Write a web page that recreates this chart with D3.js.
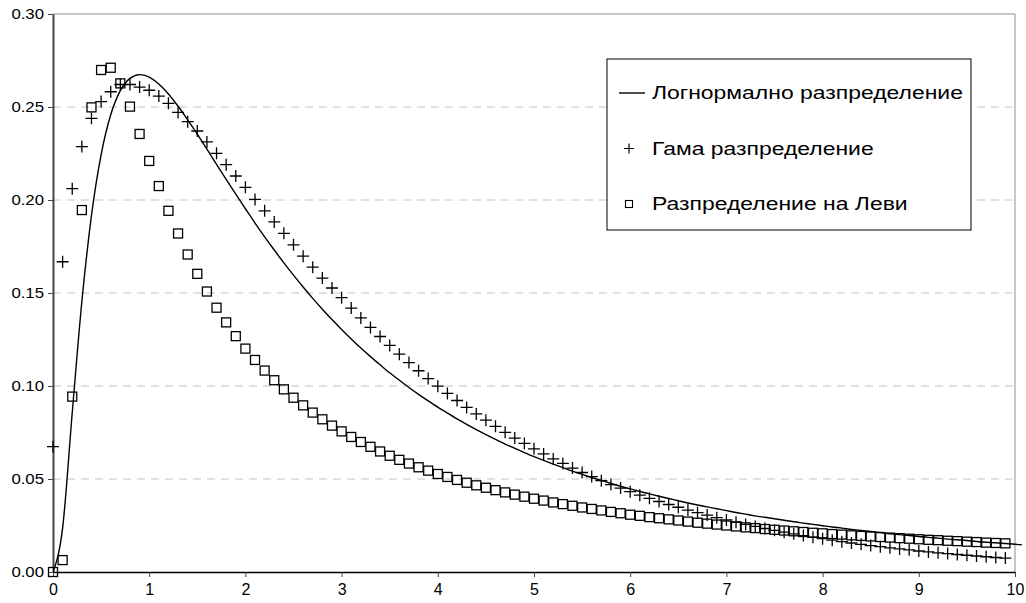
<!DOCTYPE html>
<html>
	<head>
		<meta charset="utf-8">
		<title> distributions </title>
		<script src="https://cdnjs.cloudflare.com/ajax/libs/d3/7.8.5/d3.min.js"></script>
		<style>
			body { margin: 0; background: #fff; }
			text { font-family: 'Liberation Sans', Arial, sans-serif; fill: #000; }
		</style>
	</head>

	<body>
		<script>

		// x categories (step 0.1)
		const xValues = [
			0, 0.1, 0.2, 0.3, 0.4, 0.5, 0.6, 0.7, 0.8, 0.9,
			1, 1.1, 1.2, 1.3, 1.4, 1.5, 1.6, 1.7, 1.8, 1.9,
			2, 2.1, 2.2, 2.3, 2.4, 2.5, 2.6, 2.7, 2.8, 2.9,
			3, 3.1, 3.2, 3.3, 3.4, 3.5, 3.6, 3.7, 3.8, 3.9,
			4, 4.1, 4.2, 4.3, 4.4, 4.5, 4.6, 4.7, 4.8, 4.9,
			5, 5.1, 5.2, 5.3, 5.4, 5.5, 5.6, 5.7, 5.8, 5.9,
			6, 6.1, 6.2, 6.3, 6.4, 6.5, 6.6, 6.7, 6.8, 6.9,
			7, 7.1, 7.2, 7.3, 7.4, 7.5, 7.6, 7.7, 7.8, 7.9,
			8, 8.1, 8.2, 8.3, 8.4, 8.5, 8.6, 8.7, 8.8, 8.9,
			9, 9.1, 9.2, 9.3, 9.4, 9.5, 9.6, 9.7, 9.8, 9.9,
			10, 10.1
		];

		// Логнормално разпределение
		const lognormal = [
			0, 0.0237, 0.0856, 0.1454, 0.1917, 0.2243, 0.2458, 0.2588, 0.2654, 0.2674,
			0.2661, 0.2624, 0.2570, 0.2504, 0.2431, 0.2354, 0.2273, 0.2192, 0.2111, 0.2031,
			0.1953, 0.1876, 0.1802, 0.1731, 0.1662, 0.1596, 0.1532, 0.1471, 0.1413, 0.1357,
			0.1304, 0.1253, 0.1204, 0.1158, 0.1114, 0.1071, 0.1031, 0.0992, 0.0955, 0.0920,
			0.0886, 0.0854, 0.0823, 0.0794, 0.0766, 0.0739, 0.0713, 0.0688, 0.0665, 0.0642,
			0.0620, 0.0600, 0.0580, 0.0561, 0.0542, 0.0525, 0.0508, 0.0492, 0.0476, 0.0461,
			0.0447, 0.0433, 0.0420, 0.0407, 0.0395, 0.0383, 0.0371, 0.0360, 0.0350, 0.0340,
			0.0330, 0.0320, 0.0311, 0.0302, 0.0294, 0.0286, 0.0278, 0.0270, 0.0263, 0.0256,
			0.0249, 0.0242, 0.0236, 0.0229, 0.0223, 0.0218, 0.0212, 0.0206, 0.0201, 0.0196,
			0.0191, 0.0186, 0.0182, 0.0177, 0.0173, 0.0169, 0.0164, 0.0160, 0.0157, 0.0153,
			0.0149, 0.0146
		];

		// Гама разпределение
		const gamma = [
			0.0674, 0.1668, 0.2061, 0.2287, 0.2439, 0.2529, 0.2582, 0.2621, 0.2621, 0.2607,
			0.2590, 0.2559, 0.2520, 0.2471, 0.2421, 0.2371, 0.2312, 0.2251, 0.2190, 0.2129,
			0.2068, 0.2003, 0.1942, 0.1882, 0.1821, 0.1759, 0.1698, 0.1639, 0.1580, 0.1527,
			0.1475, 0.1419, 0.1366, 0.1315, 0.1266, 0.1218, 0.1171, 0.1126, 0.1082, 0.1040,
			0.0999, 0.0960, 0.0922, 0.0885, 0.0850, 0.0816, 0.0783, 0.0751, 0.0720, 0.0691,
			0.0662, 0.0635, 0.0608, 0.0584, 0.0559, 0.0535, 0.0513, 0.0491, 0.0470, 0.0451,
			0.0432, 0.0413, 0.0396, 0.0379, 0.0363, 0.0348, 0.0333, 0.0319, 0.0306, 0.0292,
			0.0280, 0.0268, 0.0256, 0.0245, 0.0234, 0.0224, 0.0214, 0.0205, 0.0196, 0.0187,
			0.0179, 0.0171, 0.0163, 0.0156, 0.0149, 0.0142, 0.0136, 0.0130, 0.0124, 0.0119,
			0.0113, 0.0108, 0.0103, 0.0099, 0.0094, 0.0090, 0.0086, 0.0082, 0.0078, 0.0075
		];

		// Разпределение на Леви
		const levy = [
			0, 0.0064, 0.0943, 0.1946, 0.2498, 0.2699, 0.2711, 0.2627, 0.2502, 0.2355,
			0.2210, 0.2075, 0.1942, 0.1820, 0.1707, 0.1603, 0.1508, 0.1421, 0.1342, 0.1268,
			0.1201, 0.1140, 0.1083, 0.1031, 0.0982, 0.0937, 0.0896, 0.0857, 0.0821, 0.0787,
			0.0756, 0.0726, 0.0699, 0.0673, 0.0648, 0.0625, 0.0603, 0.0583, 0.0563, 0.0545,
			0.0527, 0.0511, 0.0495, 0.0480, 0.0466, 0.0453, 0.0440, 0.0428, 0.0416, 0.0405,
			0.0394, 0.0384, 0.0374, 0.0365, 0.0356, 0.0347, 0.0339, 0.0331, 0.0323, 0.0316,
			0.0308, 0.0302, 0.0295, 0.0289, 0.0283, 0.0277, 0.0271, 0.0265, 0.0260, 0.0255,
			0.0250, 0.0245, 0.0240, 0.0236, 0.0231, 0.0227, 0.0223, 0.0219, 0.0215, 0.0211,
			0.0208, 0.0204, 0.0201, 0.0197, 0.0194, 0.0191, 0.0188, 0.0185, 0.0182, 0.0179,
			0.0176, 0.0173, 0.0171, 0.0168, 0.0166, 0.0163, 0.0161, 0.0158, 0.0156, 0.0154
		];

		const xTicks = [0, 1, 2, 3, 4, 5, 6, 7, 8, 9, 10];
		const yTicks = [0, 0.05, 0.10, 0.15, 0.20, 0.25, 0.30];
		const legendLabels = ['Логнормално разпределение', 'Гама разпределение', 'Разпределение на Леви'];

		let width = 1026,
			height = 603,
			plotLeft = 53,
			plotRight = 1015,
			plotTop = 14,
			plotBottom = 572;

		let xScale = d3.scaleLinear()
						.domain([0, 10])
						.range([plotLeft, plotRight]);

		let yScale = d3.scaleLinear()
						.domain([0, 0.3])
						.range([plotBottom, plotTop]);

		let svg = d3.select('body')
					.append('svg')
					.attr('width', width)
					.attr('height', height);

		// dashed gridlines
		svg.append('g')
			.selectAll('line')
			.data(yTicks.filter(d => d > 0 && d < 0.3))
			.enter()
			.append('line')
			.attr('x1', plotLeft)
			.attr('x2', plotRight)
			.attr('y1', d => yScale(d))
			.attr('y2', d => yScale(d))
			.attr('stroke', '#c4c4c4')
			.attr('stroke-width', 1)
			.attr('stroke-dasharray', '8,6');

		// plot border (top, right)
		svg.append('path')
			.attr('d', `M${plotLeft},${yScale(0.3)}H${xScale(10)}V${yScale(0)}`)
			.attr('fill', 'none')
			.attr('stroke', '#8c8c8c')
			.attr('stroke-width', 1);

		// axes
		let yAxis = svg.append('g')
			.attr('transform', `translate(${plotLeft},0)`)
			.call(d3.axisLeft(yScale)
				.tickValues(yTicks)
				.tickFormat(d3.format('.2f'))
				.tickSizeInner(5)
				.tickSizeOuter(0)
				.tickPadding(3));

		yAxis.select('.domain').attr('stroke', '#444').attr('stroke-width', 2);
		yAxis.selectAll('.tick line').attr('stroke', '#444');
		// labels in the picture are drawn a little wide
		yAxis.selectAll('text')
			.style('font-size', '15px')
			.attr('transform', 'scale(1.12,1)');

		let xAxis = svg.append('g')
			.attr('transform', `translate(0,${plotBottom})`)
			.call(d3.axisBottom(xScale)
				.tickValues(xTicks)
				.tickFormat(d3.format('d'))
				.tickSizeInner(5)
				.tickSizeOuter(0)
				.tickPadding(7));

		xAxis.select('.domain').attr('stroke', '#000').attr('stroke-width', 1.5);
		xAxis.selectAll('.tick line').attr('stroke', '#444');
		xAxis.selectAll('text').style('font-size', '16px');

		// lognormal line
		let logData = xValues.map((x, i) => [x, lognormal[i]]);

		svg.append('clipPath')
			.attr('id', 'lineclip')
			.append('rect')
			.attr('x', plotLeft)
			.attr('y', 0)
			.attr('width', xScale(10.07) - plotLeft)
			.attr('height', height);

		svg.append('path')
			.datum(logData)
			.attr('clip-path', 'url(#lineclip)')
			.attr('fill', 'none')
			.attr('stroke', '#000')
			.attr('stroke-width', 1.4)
			.attr('d', d3.line()
				.x(d => xScale(d[0]))
				.y(d => yScale(d[1]))
				.curve(d3.curveMonotoneX));

		// Lévy squares
		svg.append('g')
			.selectAll('rect')
			.data(levy)
			.enter()
			.append('rect')
			.attr('x', (d, i) => xScale(xValues[i]) - 4.5)
			.attr('y', d => yScale(d) - 4.5)
			.attr('width', 9)
			.attr('height', 9)
			.attr('fill', 'none')
			.attr('stroke', '#000')
			.attr('stroke-width', 1.3);

		// gamma crosses
		svg.append('g')
			.selectAll('path')
			.data(gamma)
			.enter()
			.append('path')
			.attr('transform', (d, i) => `translate(${xScale(xValues[i])},${yScale(d)})`)
			.attr('d', 'M-6,0H6M0,-6V6')
			.attr('fill', 'none')
			.attr('stroke', '#000')
			.attr('stroke-width', 1.3);

		// legend
		let legend = svg.append('g')
			.attr('transform', 'translate(607,59)');

		legend.append('rect')
			.attr('width', 364)
			.attr('height', 171)
			.attr('fill', '#fff')
			.attr('stroke', '#000')
			.attr('stroke-width', 1);

		let rows = legend.selectAll('g.row')
			.data(legendLabels)
			.enter()
			.append('g')
			.attr('class', 'row')
			.attr('transform', (d, i) => `translate(0,${34 + i * 55.5})`);

		rows.append('text')
			.attr('transform', 'translate(45,0) scale(1.24,1)')
			.attr('dy', '0.35em')
			.style('font-size', '18.5px')
			.text(d => d);

		rows.filter((d, i) => i === 0)
			.append('line')
			.attr('x1', 12)
			.attr('x2', 38)
			.attr('stroke', '#000')
			.attr('stroke-width', 1.4);

		rows.filter((d, i) => i === 1)
			.append('path')
			.attr('transform', 'translate(22,0)')
			.attr('d', 'M-5,0H5M0,-5V5')
			.attr('stroke', '#000')
			.attr('stroke-width', 1.2);

		rows.filter((d, i) => i === 2)
			.append('rect')
			.attr('x', 18.5)
			.attr('y', -3.5)
			.attr('width', 7)
			.attr('height', 7)
			.attr('fill', 'none')
			.attr('stroke', '#000')
			.attr('stroke-width', 1.1);

		</script>
	</body>
</html>
